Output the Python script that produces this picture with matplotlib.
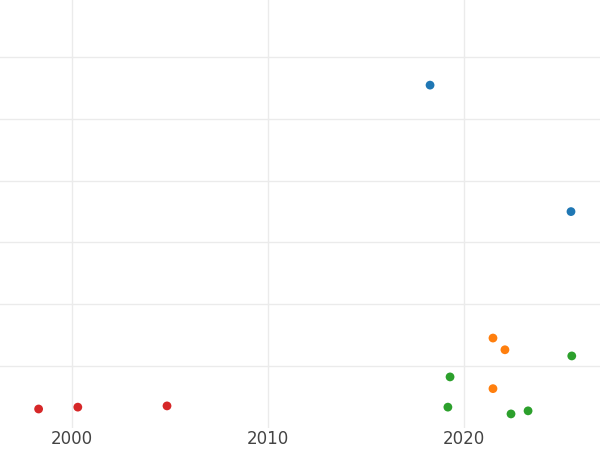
import matplotlib.pyplot as plt

blue_x = [2018.27, 2025.46]
blue_y = [5.55, 3.5]
orange_x = [2021.48, 2022.09, 2021.48]
orange_y = [1.45, 1.26, 0.63]
green_x = [2025.5, 2019.29, 2019.18, 2022.4, 2023.27]
green_y = [1.16, 0.82, 0.33, 0.22, 0.27]
red_x = [1998.3, 2000.3, 2004.85]
red_y = [0.30, 0.33, 0.35]

fig = plt.figure(figsize=(6, 4.5), dpi=100)
ax = fig.add_axes([0, 0.05, 1, 0.95])
for xs, ys, c in [(blue_x, blue_y, '#1f77b4'), (orange_x, orange_y, '#ff7f0e'),
                  (green_x, green_y, '#2ca02c'), (red_x, red_y, '#d62728')]:
    ax.scatter(xs, ys, color=c, s=40, zorder=3, edgecolors='none')

ax.set_xlim(1996.33, 2026.94)
ax.set_ylim(0, 6.93)
ax.set_xticks([2000, 2010, 2020])
ax.set_yticks([1, 2, 3, 4, 5, 6])
ax.set_yticklabels([])
ax.grid(True, color='#ebebeb', linewidth=1)
for s in ax.spines.values():
    s.set_visible(False)
ax.tick_params(length=0, labelsize=12, labelcolor='#444444', pad=2)
fig.savefig('out.png')
